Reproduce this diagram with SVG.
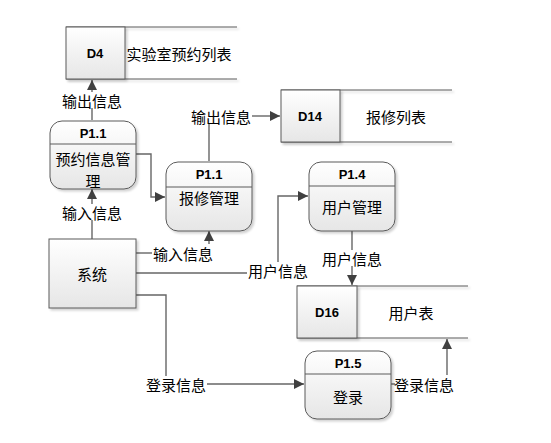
<svg xmlns="http://www.w3.org/2000/svg" width="551" height="443" viewBox="0 0 551 443">
<defs>
  <linearGradient id="g" x1="0" y1="0" x2="0" y2="1">
    <stop offset="0" stop-color="#ffffff"/>
    <stop offset="1" stop-color="#e6e6e6"/>
  </linearGradient>
  <filter id="sh" x="-10%" y="-10%" width="130%" height="130%">
    <feDropShadow dx="2" dy="2" stdDeviation="1" flood-color="#000" flood-opacity="0.18"/>
  </filter>
  <marker id="ar" viewBox="0 0 10 10" refX="10" refY="5" markerWidth="10" markerHeight="10" markerUnits="userSpaceOnUse" orient="auto">
    <path d="M0,0 L10,5 L0,10 z" fill="#404040"/>
  </marker>
  <style>
    .box{fill:url(#g);stroke:#5a5a5a;stroke-width:1;filter:url(#sh)}
    .ln{stroke:#5a5a5a;stroke-width:1;fill:none}
    .sl{stroke:#5a5a5a;stroke-width:1;fill:none;filter:url(#sh)}
    .c{stroke:#666;stroke-width:1.4;fill:none}
    .ca{stroke:#666;stroke-width:1.4;fill:none;marker-end:url(#ar)}
    .t{font-family:"Noto Sans CJK SC","Microsoft YaHei",sans-serif;font-size:15px;fill:#000;text-anchor:middle;dominant-baseline:central}
    .h{font-family:"Liberation Sans","DejaVu Sans",sans-serif;font-size:13px;font-weight:bold;fill:#000;text-anchor:middle;dominant-baseline:central}
  </style>
</defs>

<g id="connectors">
  <path class="c" d="M92,120 V108"/>
  <path class="ca" d="M92,92 V80"/>
  <path class="c" d="M92,239 V220"/>
  <path class="ca" d="M92,204 V189"/>
  <path class="ca" d="M136,154 H151 V197 H165"/>
  <path class="c" d="M136,253 H152"/>
  <path class="ca" d="M209,244 V231"/>
  <path class="c" d="M136,273 H247"/>
  <path class="ca" d="M278,262 V196 H308"/>
  <path class="c" d="M352,231 V250"/>
  <path class="ca" d="M352,266 V285"/>
  <path class="c" d="M136,295 H166 V376"/>
  <path class="ca" d="M207,384 H304"/>
  <path class="c" d="M391,384 H395"/>
  <path class="ca" d="M447,375 V339"/>
  <path class="c" d="M209,161 V124"/>
  <path class="ca" d="M252,116 H280"/>
  <text class="t" x="92" y="100">输出信息</text>
  <text class="t" x="92" y="212">输入信息</text>
  <text class="t" x="183" y="253">输入信息</text>
  <text class="t" x="278" y="270">用户信息</text>
  <text class="t" x="352" y="258">用户信息</text>
  <text class="t" x="176" y="384">登录信息</text>
  <text class="t" x="424" y="384">登录信息</text>
  <text class="t" x="221" y="116">输出信息</text>
</g>

<g id="D4">
  <path class="sl" d="M66,27 H237 M66,79 H237"/>
  <rect class="box" x="66" y="27" width="59" height="52"/>
  <text class="h" x="95" y="53">D4</text>
  <text class="t" x="179" y="53">实验室预约列表</text>
</g>

<g id="D14">
  <path class="sl" d="M281,90 H452 M281,142 H452"/>
  <rect class="box" x="281" y="90" width="59" height="52"/>
  <text class="h" x="310" y="116">D14</text>
  <text class="t" x="396" y="116">报修列表</text>
</g>

<g id="D16">
  <path class="sl" d="M297,286 H468 M297,338 H468"/>
  <rect class="box" x="297" y="286" width="60" height="52"/>
  <text class="h" x="327" y="312">D16</text>
  <text class="t" x="411" y="312">用户表</text>
</g>

<g id="P1_1a">
  <rect class="box" x="50" y="121" width="86" height="68" rx="12" ry="12"/>
  <path class="ln" d="M50,144 H136"/>
  <text class="h" x="93" y="133">P1.1</text>
  <text class="t" x="93" y="158">预约信息管</text>
  <text class="t" x="93" y="180">理</text>
</g>

<g id="P1_1b">
  <rect class="box" x="166" y="162" width="86" height="69" rx="12" ry="12"/>
  <path class="ln" d="M166,187 H252"/>
  <text class="h" x="209" y="174">P1.1</text>
  <text class="t" x="209" y="197">报修管理</text>
</g>

<g id="P1_4">
  <rect class="box" x="309" y="162" width="86" height="69" rx="12" ry="12"/>
  <path class="ln" d="M309,186 H395"/>
  <text class="h" x="352" y="174">P1.4</text>
  <text class="t" x="352" y="206">用户管理</text>
</g>

<g id="P1_5">
  <rect class="box" x="305" y="351" width="86" height="68" rx="12" ry="12"/>
  <path class="ln" d="M305,374 H391"/>
  <text class="h" x="348" y="363">P1.5</text>
  <text class="t" x="348" y="396">登录</text>
</g>

<g id="system">
  <rect class="box" x="49" y="239" width="87" height="69"/>
  <text class="t" x="92" y="273">系统</text>
</g>
</svg>
